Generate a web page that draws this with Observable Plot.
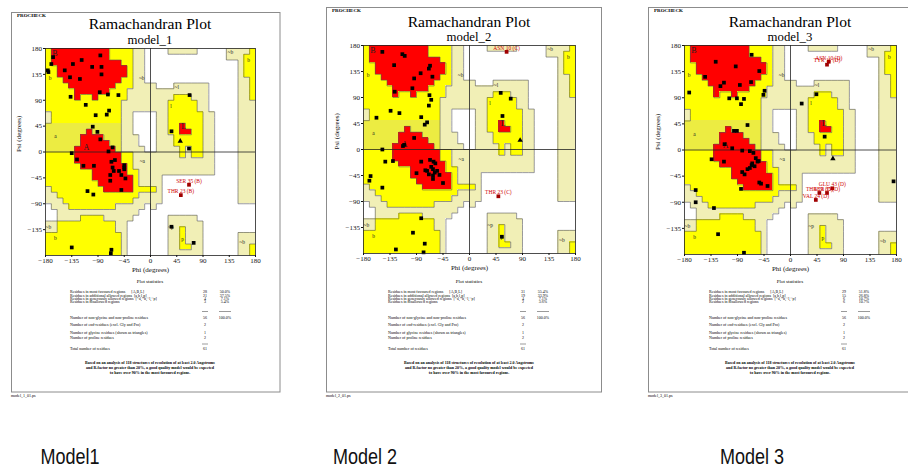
<!DOCTYPE html>
<html>
<head>
<meta charset="utf-8">
<script src="https://cdn.jsdelivr.net/npm/d3@7"></script>
<script src="https://cdn.jsdelivr.net/npm/@observablehq/plot@0.6"></script>
<style>
html,body{margin:0;padding:0;background:#fff;}
#root{position:relative;width:908px;height:470px;overflow:hidden;background:#fff;}
#root svg{position:absolute;}
</style>
</head>
<body>
<div id="root"></div>
<script>
const SERIF = '"Liberation Serif","Times New Roman","DejaVu Serif",serif';

// ---------------- tick labels ----------------
const phiTicks = [-180, -135, -90, -45, 0, 45, 90, 135, 180];
const psiTicks = [-135, -90, -45, 0, 45, 90, 135, 180];

// ---------------- Ramachandran region map (10° cells; rows psi 180 -> -180, cols phi -180 -> 180)
// R = most favoured, Y = additional allowed, O = allowed (shaded band), G = generously allowed, . = disallowed
const regionGrid = [
  "YRRRRRRRRRRYYYYGG." + "...GGGGG.....GGGGY",
  "YRRRRRRRRRRYYYYGG." + ".............GGGYY",
  "YRRRRRRRRRRRRYYGG." + "...............GYY",
  "YYRRRRRRRRRRRRYGG." + "...............GYY",
  "YYRRRRRRRRRRRRYGG." + "...............GYY",
  "YYYRRRRRRRRRRYYGG." + "...............GGY",
  "YYYYRRRRRRRRYYYGGG" + "G...GGGGGG.....GGY",
  "YYYYYRRRRRRYYYGGGG" + "GGGGGGGGGG.....GGY",
  "YYYYYRYYRYYYYYGGGG" + "GGGGYYYGGG.....GGY",
  "YYYYYYYYYYYYYGGGGG" + "GGGYYYYYGG.....GGG",
  "YYYYYYYYYYYYYGGGGG" + "GGGYYYYYGG.....GGG",
  "GYYYYYYYYYYYYGG..." + ".GGYYYYYYGG....GGG",
  "GYYYYYYYYYYYYGG..." + ".GGYYYYYYGG....GGG",
  "OOOOOOOOOOOOOGG..." + ".GGYYRYYYGG....GGG",
  "OOOOOOOROOOOOGG..." + ".GGYYRRYYGG....GGG",
  "OOOOOORRRROOOGGG.." + ".GGGYYYYYGG....GGG",
  "OOOOOORRRRROOGGG.." + ".GGGYYYYYGG....GGG",
  "OOOOORRRRRRROGGGG." + ".GGGGYGYYGG....GGG",
  "YYYYYRRRRRRRRYYGGG" + "GGGGGYGYYGG....GGG",
  "YYYYYRRRRRRRRYYGGG" + "GGGGGGGGGGG....GGG",
  "YYYYYYRRRRRRRRYGGG" + "GGGGGGGGGGG....GGG",
  "YYYYYYYYRRRRRRYYGG" + "GGGGGGGGGGG....GGG",
  "YYYYYYYYRRRRRRRYGG" + "GG.............GGG",
  "YYYYYYYYYRRRRRRYGG" + "GG.............GGG",
  "GYYYYYYYYYRRRRRYYY" + "YG.............GGG",
  "GGYYYYYYYYYYYYYYGG" + "GG.............GGG",
  "GGGYYYYYYYYYYYYGGG" + "GG.............GGG",
  ".GGGYYYYYYYYGGGGG." + "G.................",
  "..GGGGGGGGGGGGGG.." + "..................",
  "..GGGGYYYYGGGGG..." + "...GGGGG..........",
  "GGYYYYYYYYYYGG...." + "...GGGGGG.........",
  "GGYYYYYYYYYYGG...." + "...GGYGGG.........",
  "YYYYYYYYYYYYYG...." + "...GGYGGG......GGG",
  "YYYYYYYYYYYYYG...." + "...GGYGGG......GGG",
  "YYYYYYYYYYYYYG...." + "...GGYYGG......GGY",
  "YYYYYYYYYYYYYG...." + "...GGGGGG......GGY"
];
const regionColors = {R: "#ff0000", Y: "#ffff00", O: "#ecec42", G: "#f1efb6"};

const regionLabelsBig = [
  {t: "B", phi: -164, psi: 171},
  {t: "A", phi: -110, psi: 8},
  {t: "L", phi: 57, psi: 45}
];
const regionLabelsSmall = [
  {t: "b", phi: -172, psi: 128},
  {t: "~b", phi: -15, psi: 128},
  {t: "a", phi: -163, psi: 28},
  {t: "~a", phi: -14, psi: -16},
  {t: "l", phi: 35, psi: 80},
  {t: "~l", phi: 45, psi: 112},
  {t: "~b", phi: 137, psi: 173},
  {t: "b", phi: 168, psi: 160},
  {t: "~p", phi: 35, psi: -131},
  {t: "p", phi: 55, psi: -152},
  {t: "~b", phi: 157, psi: -157},
  {t: "~b", phi: -175, psi: -131},
  {t: "b", phi: -163, psi: -150}
];

// ---------------- residues [phi, psi] ----------------
const model1Residues = [
  [-167,165],[-170,153],[-176,142],[-175,139],[-133,153],[-118,160],[-86,168],[-100,148],[-84,148],[-84,135],
  [-147,142],[-138,130],[-121,127],[-87,104],[-73,100],[-55,99],[-137,96],[-111,82],[-94,64],[-75,65],
  [-71,72],[-99,44],[-91,35],[-86,22],[-65,8],[-72,1],[-135,-2],[-126,-13],[-115,-24],[-97,-24],
  [-67,-17],[-61,-14],[-65,-27],[-63,-33],[-54,-33],[-45,-23],[-45,-27],[-45,-30],[-69,-40],[-69,-50],
  [-50,-40],[-43,-46],[-108,-68],[-98,-74],[-50,-66],[67,99],[36,36],[66,6],[36,-130],[74,-158],
  [-135,-166],[-67,-170],[-68,-176]
];
const model1Glycine = [[51,19]];
const model1Flagged = [[66,-57,"SER 35 (B)"],[52,-75,"THR 23 (B)"]];

const model2Residues = [
  [-148,169],[-114,165],[-110,162],[-128,146],[-67,145],[-69,140],[-83,132],[-63,126],[-94,123],[-97,106],
  [-127,100],[-68,94],[-65,86],[-69,76],[-134,67],[-119,63],[-158,55],[-82,56],[-72,47],[-76,43],
  [-94,20],[-111,8],[-113,6],[-148,0],[-143,-21],[-130,-20],[-82,-21],[-67,-18],[-61,-21],[-58,-24],
  [-72,-37],[-75,-36],[-90,-41],[-65,-30],[-62,-34],[-59,-40],[-62,-45],[-55,-37],[-51,-44],[-45,-58],
  [-62,-51],[-69,-43],[-168,-46],[-170,-54],[-148,-66],[-82,-119],[-96,-144],[-76,-163],[-125,-173],[-78,-178],
  [53,98],[70,88],[56,58],[55,-151]
];
const model2Glycine = [[86,16]];
const model2Flagged = [[63,169,"ASN 10 (C)"],[49,-81,"THR 23 (C)"]];

const model3Residues = [
  [-66,164],[-127,152],[-93,144],[-53,136],[-67,117],[-145,126],[-113,116],[-119,110],[-86,112],[-44,102],
  [-46,95],[-172,99],[-104,89],[-91,89],[-79,88],[-84,79],[-73,43],[-96,33],[-91,33],[-112,10],
  [-99,3],[-82,-1],[-69,-2],[-63,-5],[-134,-16],[-113,-20],[-59,-14],[-54,-19],[-65,-23],[-56,-20],
  [-66,-26],[-61,-28],[-69,-31],[-73,-33],[-82,-38],[-78,-42],[-53,-56],[-50,-58],[-39,-62],[-84,-67],
  [-161,-69],[-161,-90],[-130,-100],[-123,-145],[-79,-177],[44,96],[19,80],[58,23],[175,-54]
];
const model3Glycine = [[72,-15]];
const model3Flagged = [[65,152,"ASN 10 (D)"],[62,147,"TYR 11 (D)"],[71,-66,"GLU 43 (D)"],[49,-74,"THR 23 (D)"],[62,-74,"SER 35 (D)"],[43,-86,"VAL 24 (D)"]];

// ---------------- texts ----------------
const modelNames = ["model_1", "model_2", "model_3"];
const fileNames = ["model_1_01.ps", "model_2_01.ps", "model_3_01.ps"];
const captionLabels = ["Model1", "Model 2", "Model 3"];
const regionStatLabels = [
  "Residues in most favoured regions      [A,B,L]",
  "Residues in additional allowed regions  [a,b,l,p]",
  "Residues in generously allowed regions  [~a,~b,~l,~p]",
  "Residues in disallowed regions"
];
const model1RegionCounts = [28, 21, 4, 3];
const model1RegionPct = ["50.0%", "37.5%", "7.1%", "5.4%"];
const model2RegionCounts = [31, 19, 4, 2];
const model2RegionPct = ["55.4%", "33.9%", "7.1%", "3.6%"];
const model3RegionCounts = [29, 15, 6, 6];
const model3RegionPct = ["51.8%", "26.8%", "10.7%", "10.7%"];
const residueCountLabels = [
  "Number of non-glycine and non-proline residues",
  "Number of end-residues (excl. Gly and Pro)",
  "Number of glycine residues (shown as triangles)",
  "Number of proline residues",
  "Total number of residues"
];
const residueCounts = [56, 2, 1, 2, 61];
const footerLines = [
  "Based on an analysis of 118 structures of resolution of at least 2.0 Angstroms",
  "and R-factor no greater than 20%, a good quality model would be expected",
  "to have over 90% in the most favoured regions."
];

const models = [
  {res: model1Residues, gly: model1Glycine, flag: model1Flagged, counts: model1RegionCounts, pct: model1RegionPct},
  {res: model2Residues, gly: model2Glycine, flag: model2Flagged, counts: model2RegionCounts, pct: model2RegionPct},
  {res: model3Residues, gly: model3Glycine, flag: model3Flagged, counts: model3RegionCounts, pct: model3RegionPct}
];

// ---------------- page layout ----------------
const pages = [
  {left: 11, top: 12, right: 279.5, bottom: 391.5, px: 45, py: 48, pw: 210, ph: 207, titleY: 29.3, subY: 43.5, capX: 70},
  {left: 326, top: 7, right: 601, bottom: 391.5, px: 363, py: 45, pw: 212, ph: 208, titleY: 26.5, subY: 40.5, capX: 365},
  {left: 648, top: 7, right: 916, bottom: 391.5, px: 684, py: 45, pw: 212, ph: 209, titleY: 26.5, subY: 40.5, capX: 752}
];

// ---------------- derived region geometry ----------------
function regionRuns(grid) {
  const out = [];
  grid.forEach((row, r) => {
    let c = 0;
    while (c < 36) {
      const ch = row[c];
      let e = c;
      while (e + 1 < 36 && row[e + 1] === ch) e++;
      if (ch !== ".") out.push({k: ch, x1: -180 + 10 * c, x2: -170 + 10 * e, y1: 170 - 10 * r, y2: 180 - 10 * r});
      c = e + 1;
    }
  });
  return out;
}
function regionEdges(grid) {
  const k = ch => (ch === "O" ? "Y" : ch);
  const out = [];
  for (let r = 0; r < 36; r++) {
    for (let c = 0; c < 36; c++) {
      if (c < 35 && k(grid[r][c]) !== k(grid[r][c + 1]))
        out.push({x1: -170 + 10 * c, x2: -170 + 10 * c, y1: 180 - 10 * r, y2: 170 - 10 * r});
      if (r < 35 && k(grid[r][c]) !== k(grid[r + 1][c]))
        out.push({x1: -180 + 10 * c, x2: -170 + 10 * c, y1: 170 - 10 * r, y2: 170 - 10 * r});
    }
  }
  return out;
}
const runs = regionRuns(regionGrid);
const edges = regionEdges(regionGrid);

const root = document.getElementById("root");

// ---------------- page backgrounds and text ----------------
const bg = d3.select(root).append("svg")
  .attr("width", 908).attr("height", 470)
  .style("left", "0px").style("top", "0px")
  .attr("font-family", SERIF);

pages.forEach((p, i) => {
  const m = models[i];
  const cx = p.px + p.pw / 2;
  const g = bg.append("g");
  g.append("rect").attr("x", p.left + 0.5).attr("y", p.top + 0.5)
    .attr("width", p.right - p.left).attr("height", p.bottom - p.top)
    .attr("fill", "#fff").attr("stroke", "#8c8c8c").attr("stroke-width", 1);
  g.append("text").attr("x", p.left + 6).attr("y", p.top + 5).attr("font-size", 5).attr("font-weight", "bold").text("PROCHECK");
  g.append("text").attr("x", cx).attr("y", p.titleY).attr("text-anchor", "middle").attr("font-size", 15.6).text("Ramachandran Plot");
  g.append("text").attr("x", cx).attr("y", p.subY).attr("text-anchor", "middle").attr("font-size", 12.8).text(modelNames[i]);

  // statistics
  const tx = p.px + 25, nx = p.px + 160, qx = p.px + 180;
  g.append("text").attr("x", cx).attr("y", 283.2).attr("text-anchor", "middle").attr("font-size", 5).text("Plot statistics");
  const rowY = [293.1, 296.5, 300.0, 303.4];
  regionStatLabels.forEach((lab, j) => {
    g.append("text").attr("x", tx).attr("y", rowY[j]).attr("font-size", 4).style("white-space", "pre").text(lab);
    g.append("text").attr("x", nx).attr("y", rowY[j]).attr("font-size", 4).attr("text-anchor", "middle").text(m.counts[j]);
    g.append("text").attr("x", qx).attr("y", rowY[j]).attr("font-size", 4).attr("text-anchor", "middle").text(m.pct[j]);
  });
  g.append("line").attr("x1", nx - 3).attr("x2", nx + 3).attr("y1", 311.5).attr("y2", 311.5).attr("stroke", "#000").attr("stroke-width", 0.4);
  g.append("line").attr("x1", qx - 6).attr("x2", qx + 6).attr("y1", 311.5).attr("y2", 311.5).attr("stroke", "#000").attr("stroke-width", 0.4);
  const cntY = [319.4, 326.2, 333.9, 338.7, 350.4];
  residueCountLabels.forEach((lab, j) => {
    g.append("text").attr("x", tx).attr("y", cntY[j]).attr("font-size", 4).text(lab);
    g.append("text").attr("x", nx).attr("y", cntY[j]).attr("font-size", 4).attr("text-anchor", "middle").text(residueCounts[j]);
  });
  g.append("text").attr("x", qx).attr("y", cntY[0]).attr("font-size", 4).attr("text-anchor", "middle").text("100.0%");
  g.append("line").attr("x1", nx - 3).attr("x2", nx + 3).attr("y1", 344).attr("y2", 344).attr("stroke", "#000").attr("stroke-width", 0.4);
  const footY = [364.4, 369.4, 374.4];
  footerLines.forEach((lab, j) => {
    g.append("text").attr("x", cx).attr("y", footY[j]).attr("font-size", 4).attr("font-weight", "bold").attr("text-anchor", "middle").text(lab);
  });
  g.append("text").attr("x", p.left).attr("y", 397.4).attr("font-size", 4).text(fileNames[i]);

  // caption under each page (condensed sans)
  bg.append("text")
    .attr("transform", `translate(${p.capX},464) scale(0.82,1)`)
    .attr("text-anchor", "middle")
    .attr("font-family", '"Liberation Sans Narrow","Arial Narrow","Liberation Sans",sans-serif')
    .attr("font-size", 22).attr("fill", "#111").text(captionLabels[i]);
});

// ---------------- Ramachandran plots ----------------
const ML = 40, MR = 8, MT = 6, MB = 24;
pages.forEach((p, i) => {
  const m = models[i];
  const chart = Plot.plot({
    width: p.pw + ML + MR,
    height: p.ph + MT + MB,
    marginLeft: ML, marginRight: MR, marginTop: MT, marginBottom: MB,
    x: {domain: [-180, 180]},
    y: {domain: [-180, 180]},
    color: {type: "identity"},
    style: {fontFamily: SERIF, fontSize: "7px", background: "transparent", overflow: "visible", color: "#111"},
    marks: [
      Plot.rect(runs, {x1: "x1", x2: "x2", y1: "y1", y2: "y2", fill: d => regionColors[d.k], shapeRendering: "crispEdges"}),
      Plot.link(edges, {x1: "x1", y1: "y1", x2: "x2", y2: "y2", stroke: "#555", strokeWidth: 0.6}),
      Plot.ruleX([0], {stroke: "#222", strokeWidth: 0.8}),
      Plot.ruleY([0], {stroke: "#222", strokeWidth: 0.8}),
      Plot.text(regionLabelsBig, {x: "phi", y: "psi", text: "t", fontSize: 8, fill: "#222"}),
      Plot.text(regionLabelsSmall, {x: "phi", y: "psi", text: "t", fontSize: 5.5, fill: "#222"}),
      Plot.dot(m.res, {x: d => d[0], y: d => d[1], symbol: "square", r: 2.1, fill: "#000"}),
      Plot.dot(m.gly, {x: d => d[0], y: d => d[1], symbol: "triangle", r: 2, fill: "#000"}),
      Plot.dot(m.flag, {x: d => d[0], y: d => d[1], symbol: "square", r: 2.1, fill: "#a00000"}),
      Plot.text(m.flag, {x: d => d[0], y: d => d[1], text: d => d[2], dy: -4, fontSize: 5.5, fill: "#d00000"}),
      Plot.frame({stroke: "#222", strokeWidth: 0.8}),
      Plot.axisX({ticks: phiTicks, tickSize: 2, tickPadding: 1, label: null}),
      Plot.axisY({ticks: psiTicks, tickSize: 2, tickPadding: 1.5, label: null}),
      Plot.text(["Phi (degrees)"], {frameAnchor: "bottom", text: d => d, dy: 16}),
      Plot.text(["Psi (degrees)"], {frameAnchor: "left", text: d => d, dx: -27, rotate: -90})
    ]
  });
  chart.style.position = "absolute";
  chart.style.left = (p.px - ML) + "px";
  chart.style.top = (p.py - MT) + "px";
  chart.style.maxWidth = "none";
  root.appendChild(chart);
});
</script>
</body>
</html>
